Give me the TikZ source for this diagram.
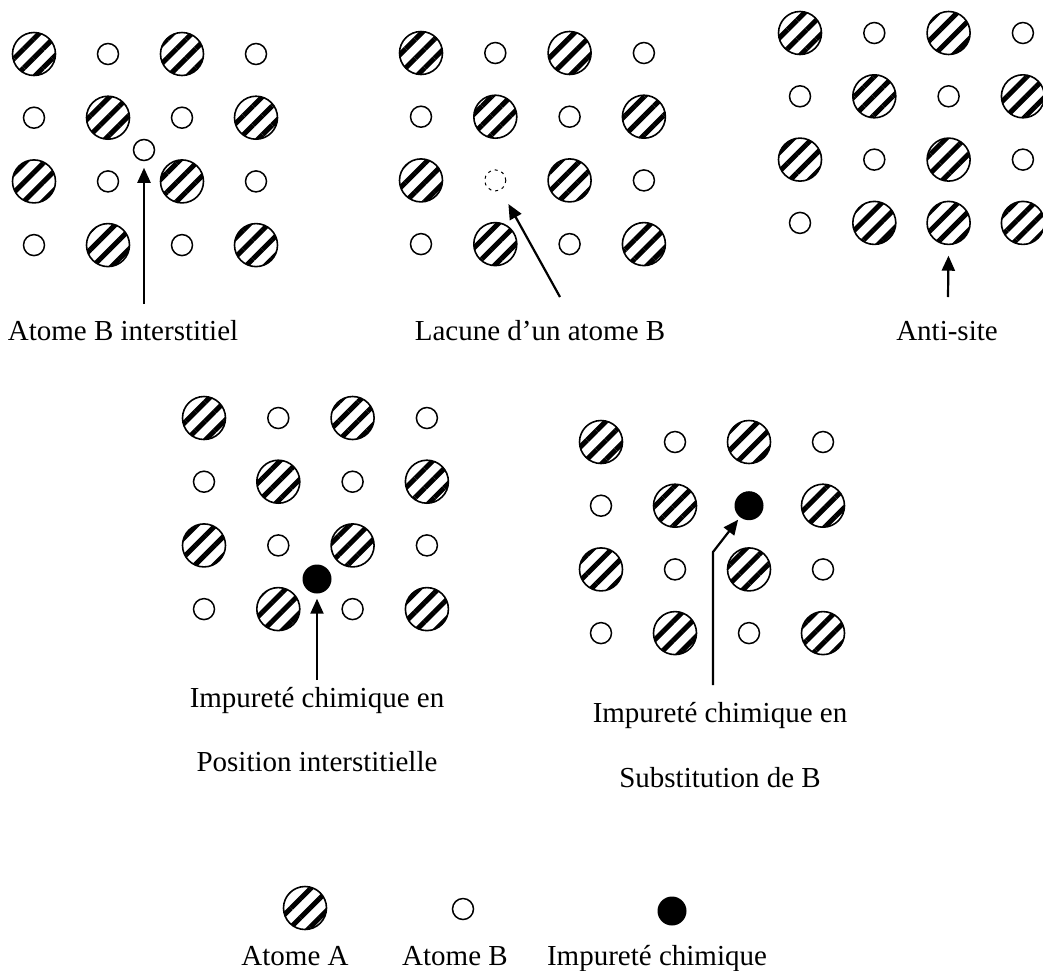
\documentclass[tikz,border=0pt]{standalone}
\usepackage{fontspec}
\setmainfont{Liberation Serif}
\usetikzlibrary{patterns.meta,arrows.meta}
\tikzset{
  atomA/.style={circle, draw, line width=1.6pt, minimum size=43pt, inner sep=0pt,
    pattern={Lines[angle=45,distance=13.5pt,line width=5pt]}},
  atomB/.style={circle, draw, line width=1.5pt, minimum size=21pt, inner sep=0pt},
  atomV/.style={circle, draw, line width=1pt, dash pattern=on 3pt off 4pt, minimum size=21pt, inner sep=0pt},
  atomI/.style={circle, fill=black, minimum size=29pt, inner sep=0pt},
  arr/.style={line width=2.2pt, -{Triangle[length=15pt,width=13pt]}},
  lab/.style={font=\fontsize{29}{35}\selectfont, anchor=base, inner sep=0pt}
}
\newcommand\lattice[6]{%
  \foreach \r/\row in {#6}{%
    \foreach \t [count=\c] in \row {%
      \node[atom\t] (#1-\r-\c) at ({#2+(\c-1)*#4},{#3+(\r-1)*#5}) {};
    }%
  }%
}
\begin{document}
\begin{tikzpicture}[x=1pt,y=-1pt]
\useasboundingbox (0,0) rectangle (1043,970);
% Panel 1 : interstitiel
\lattice{p1}{34}{54}{74}{63.7}{1/{A,B,A,B},2/{B,A,B,A},3/{A,B,A,B},4/{B,A,B,A}}
\node[atomB] (i1) at (144,150) {};
\coordinate (t1) at (144,304);
\draw[arr, shorten >=6.5pt] (t1) -- (i1.south);
\node[lab] (l1) at (123,340) {Atome B interstitiel};
% Panel 2 : lacune
\lattice{p2}{421}{53}{74.3}{63.7}{1/{A,B,A,B},2/{B,A,B,A},3/{A,V,A,B},4/{B,A,B,A}}
\coordinate (t2) at (560,297);
\draw[arr, shorten >=16pt] (t2) -- (p2-3-2);
\node[lab] (l2) at (540,340) {Lacune d’un atome B};
% Panel 3 : anti-site
\lattice{p3}{800}{33}{74.3}{63.3}{1/{A,B,A,B},2/{B,A,B,A},3/{A,B,A,B},4/{B,A,A,A}}
\coordinate (t3) at (948,297);
\draw[arr, shorten >=10.5pt] (t3) -- (p3-4-3.south);
\node[lab] (l3) at (947,340) {Anti-site};
% Panel 4 : impurete interstitielle
\lattice{p4}{204}{418}{74.3}{63.7}{1/{A,B,A,B},2/{B,A,B,A},3/{A,B,A,B},4/{B,A,B,A}}
\node[atomI] (i4) at (317,579) {};
\coordinate (t4) at (317,680);
\draw[arr, shorten >=5pt] (t4) -- (i4.south);
\node[lab] (l4a) at (317,707) {Impureté chimique en};
\node[lab] (l4b) at (317,771) {Position interstitielle};
% Panel 5 : substitution
\lattice{p5}{601}{442}{74}{63.7}{1/{A,B,A,B},2/{B,A,I,A},3/{A,B,A,B},4/{B,A,B,A}}
\coordinate (t5) at (713,685);
\coordinate (b5) at (713,552);
\draw[arr, shorten >=3pt] (t5) -- (b5) -- (p5-2-3);
\node[lab] (l5a) at (720,722) {Impureté chimique en};
\node[lab] (l5b) at (720,787) {Substitution de B};
% Legend
\node[atomA] (legA) at (305,908) {};
\node[atomB] (legB) at (463,909) {};
\node[atomI] (legI) at (672,911) {};
\node[lab] (llA) at (295,965) {Atome A};
\node[lab] (llB) at (455,965) {Atome B};
\node[lab] (llI) at (657,965) {Impureté chimique};
\end{tikzpicture}
\end{document}
